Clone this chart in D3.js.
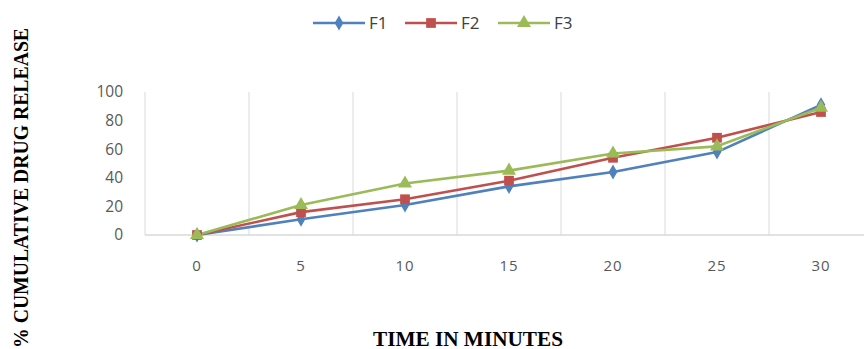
<!DOCTYPE html>
<html>
<head>
<meta charset="utf-8">
<script src="https://cdn.jsdelivr.net/npm/d3@7"></script>
<style>
  html, body { margin: 0; padding: 0; background: #fff; }
  svg { display: block; }
</style>
</head>
<body>
<svg id="chart" width="864" height="349"></svg>
<script>
// Dissolution time points (minutes)
const times = ["0", "5", "10", "15", "20", "25", "30"];
// % cumulative drug release per formulation
const f1 = [0, 11, 21, 34, 44, 58, 91];
const f2 = [0, 16, 25, 38, 54, 68, 86];
const f3 = [0, 21, 36, 45, 57, 62, 89];
const yTicks = [0, 20, 40, 60, 80, 100];
const seriesNames = ["F1", "F2", "F3"];

const series = [
  { name: seriesNames[0], values: f1, color: "#4F81BD", symbol: d3.symbolDiamond, size: 65 },
  { name: seriesNames[1], values: f2, color: "#C0504D", symbol: d3.symbolSquare, size: 95 },
  { name: seriesNames[2], values: f3, color: "#9BBB59", symbol: d3.symbolTriangle, size: 85 }
];

const svg = d3.select("#chart");
const plot = { left: 145, right: 873, top: 92, bottom: 235 };

const x = d3.scaleBand().domain(times).range([plot.left, plot.right]).padding(0);
const y = d3.scaleLinear().domain([0, 100]).range([plot.bottom, plot.top]);
const cx = t => x(t) + x.bandwidth() / 2;

// Vertical gridlines at category boundaries
const bounds = times.map(t => x(t)).concat([plot.right]);
svg.append("g").selectAll("line").data(bounds).join("line")
  .attr("x1", d => d).attr("x2", d => d)
  .attr("y1", plot.top).attr("y2", plot.bottom)
  .attr("stroke", "#d9d9d9").attr("stroke-width", 1);

// Category axis baseline
svg.append("line")
  .attr("x1", plot.left).attr("x2", plot.right)
  .attr("y1", plot.bottom).attr("y2", plot.bottom)
  .attr("stroke", "#d9d9d9").attr("stroke-width", 1.5);

// Y axis labels
const yAxis = d3.axisLeft(y).tickValues(yTicks).tickSize(0).tickPadding(0);
const gy = svg.append("g").attr("transform", `translate(123,0)`).call(yAxis);
gy.select(".domain").remove();
gy.selectAll("text")
  .attr("font-family", "'Open Sans', sans-serif").attr("font-size", 15.5)
  .attr("fill", "#595959");

// X axis labels
const xAxis = d3.axisBottom(x).tickSize(0).tickPadding(0);
const gx = svg.append("g").attr("transform", `translate(0,260)`).call(xAxis);
gx.select(".domain").remove();
gx.selectAll("text")
  .attr("font-family", "'Open Sans', sans-serif").attr("font-size", 15)
  .attr("fill", "#595959").attr("letter-spacing", 1);

// Lines and markers
const line = d3.line().x((d, i) => cx(times[i])).y(d => y(d));
series.forEach(s => {
  svg.append("path").datum(s.values)
    .attr("d", line).attr("fill", "none")
    .attr("stroke", s.color).attr("stroke-width", 2.6)
    .attr("stroke-linejoin", "round");
});
series.forEach(s => {
  svg.append("g").selectAll("path").data(s.values).join("path")
    .attr("transform", (d, i) => `translate(${cx(times[i])},${y(d)})`)
    .attr("d", d3.symbol().type(s.symbol).size(s.size))
    .attr("fill", s.color);
});

// Legend
const legendX = [313, 405, 498];
const legend = svg.append("g");
series.forEach((s, i) => {
  const g = legend.append("g").attr("transform", `translate(${legendX[i]},23)`);
  g.append("line").attr("x1", 0).attr("x2", 52).attr("y1", 0).attr("y2", 0)
    .attr("stroke", s.color).attr("stroke-width", 2.6);
  g.append("path").attr("transform", "translate(26,0)")
    .attr("d", d3.symbol().type(s.symbol).size(s.size)).attr("fill", s.color);
  g.append("text").attr("x", 56).attr("y", 0).attr("dy", "0.35em")
    .attr("font-family", "'Open Sans', sans-serif").attr("font-size", 17)
    .attr("fill", "#404040").text(s.name);
});

// Axis titles
svg.append("text")
  .attr("transform", "translate(28,188) rotate(-90)")
  .attr("text-anchor", "middle")
  .attr("font-family", "'Liberation Serif', 'Times New Roman', serif")
  .attr("font-weight", "bold").attr("font-size", 20)
  .attr("textLength", 320).attr("lengthAdjust", "spacingAndGlyphs")
  .attr("fill", "#000").text("% CUMULATIVE DRUG RELEASE");

svg.append("text")
  .attr("x", 468).attr("y", 346)
  .attr("text-anchor", "middle")
  .attr("font-family", "'Liberation Serif', 'Times New Roman', serif")
  .attr("font-weight", "bold").attr("font-size", 20)
  .attr("textLength", 190).attr("lengthAdjust", "spacingAndGlyphs")
  .attr("fill", "#000").text("TIME IN MINUTES");
</script>
</body>
</html>
